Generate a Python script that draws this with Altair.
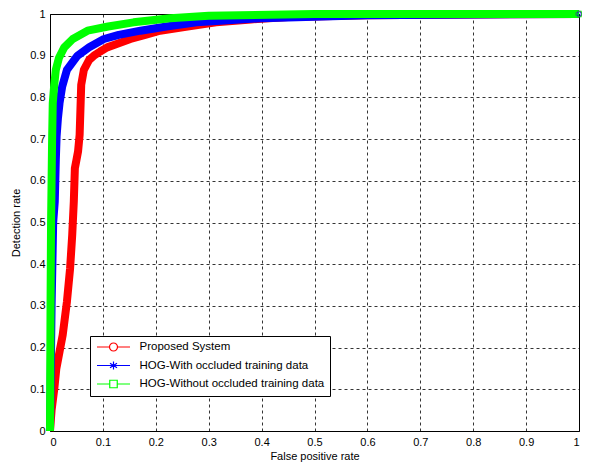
import altair as alt
import pandas as pd

series = ["Proposed System", "HOG-With occluded training data", "HOG-Without occluded training data"]
colors = ["#ff0000", "#0000ff", "#00ff00"]
end_shapes = ["circle", "cross", "square"]

red_fpr = [0, 0.003, 0.008, 0.012, 0.018, 0.024, 0.032, 0.038, 0.042, 0.045, 0.047, 0.05, 0.053, 0.056,
           0.058, 0.059, 0.064, 0.074, 0.083, 0.095, 0.108, 0.13, 0.152, 0.18, 0.208, 0.26, 0.314, 0.38,
           0.45, 0.6, 0.8, 1.0]
red_tpr = [0, 0.05, 0.1, 0.15, 0.19, 0.23, 0.31, 0.39, 0.47, 0.55, 0.63, 0.65, 0.67, 0.71,
           0.79, 0.83, 0.866, 0.89, 0.9, 0.91, 0.92, 0.93, 0.94, 0.95, 0.96, 0.97, 0.98, 0.987,
           0.993, 0.997, 0.999, 1.0]

blue_fpr = [0, 0.003, 0.006, 0.009, 0.01, 0.011, 0.0125, 0.015, 0.018, 0.023, 0.032, 0.046, 0.052, 0.074,
            0.102, 0.13, 0.171, 0.22, 0.277, 0.4, 0.6, 0.8, 1.0]
blue_tpr = [0, 0.3, 0.5, 0.55, 0.6, 0.65, 0.707, 0.75, 0.786, 0.826, 0.866, 0.89, 0.9, 0.92,
            0.94, 0.95, 0.96, 0.97, 0.98, 0.99, 0.997, 0.999, 1.0]

green_fpr = [0, 0.001, 0.002, 0.003, 0.004, 0.0052, 0.008, 0.011, 0.017, 0.027, 0.043, 0.071, 0.11,
             0.158, 0.227, 0.3, 0.5, 1.0]
green_tpr = [0, 0.3, 0.5, 0.6, 0.7, 0.786, 0.83, 0.866, 0.895, 0.92, 0.94, 0.96, 0.97,
             0.98, 0.99, 0.996, 1.0, 1.0]

ticks = [0, 0.1, 0.2, 0.3, 0.4, 0.5, 0.6, 0.7, 0.8, 0.9, 1]

rows = []
for name, xs_, ys_ in [(series[0], red_fpr, red_tpr), (series[1], blue_fpr, blue_tpr),
                       (series[2], green_fpr, green_tpr)]:
    for i, (x, y) in enumerate(zip(xs_, ys_)):
        rows.append({"series": name, "fpr": x, "tpr": y, "idx": i})
df = pd.DataFrame(rows)
ends = df.groupby("series").tail(1)

circle_path = "M-3.3,0H-0.8M0.8,0H3.3M-0.8,0A0.8,0.8 0 1,1 0.8,0A0.8,0.8 0 1,1 -0.8,0Z"
star_path = "M-3.3,0H3.3M0,-0.8V0.8M-0.7,-0.45L0.7,0.45M-0.7,0.45L0.7,-0.45"
square_path = "M-3.3,0H-0.8M0.8,0H3.3M-0.75,-0.75H0.75V0.75H-0.75Z"

font = "Liberation Sans"
xs = alt.X("fpr:Q", scale=alt.Scale(domain=[0, 1], nice=False),
           axis=alt.Axis(values=ticks, format="~g", title="False positive rate"))
ys = alt.Y("tpr:Q", scale=alt.Scale(domain=[0, 1], nice=False),
           axis=alt.Axis(values=ticks, format="~g", title="Detection rate"))

layers = []
for name, col in zip(series, colors):
    layers.append(
        alt.Chart(df).transform_filter(alt.datum.series == name)
        .mark_line(strokeWidth=8, strokeJoin="round", strokeCap="butt")
        .encode(x=xs, y=ys, order="idx:Q", color=alt.value(col))
    )
for name, col, shp in zip(series, colors, end_shapes):
    layers.append(
        alt.Chart(ends).transform_filter(alt.datum.series == name)
        .mark_point(filled=False, size=30, strokeWidth=1.2)
        .encode(x=xs, y=ys, color=alt.value(col), shape=alt.value(shp))
    )

leg = alt.Legend(
    title=None, orient="none", legendX=40, legendY=322,
    strokeColor="black", fillColor="white", padding=5,
    labelFont=font, labelFontSize=11.5, labelColor="black", labelLimit=0,
    symbolSize=100, symbolStrokeWidth=1.2, symbolOpacity=1,
    symbolOffset=12.5, labelOffset=20, rowPadding=4.5)

legend_layer = alt.Chart(ends).mark_point(opacity=0, filled=False, size=100).encode(
    x=xs, y=ys,
    color=alt.Color("series:N", scale=alt.Scale(domain=series, range=colors), legend=leg),
    shape=alt.Shape("series:N", scale=alt.Scale(domain=series,
                    range=[circle_path, star_path, square_path]), legend=leg),
)

chart = alt.layer(*layers, legend_layer).properties(
    width=529, height=417,
    autosize=alt.AutoSizeParams(type="none"),
    padding={"left": 42, "top": 6, "right": 3, "bottom": 35},
).configure_view(stroke="black", strokeWidth=1).configure_axis(
    domain=False, ticks=False, grid=True, gridColor="black", gridDash=[3, 3],
    gridWidth=0.8, gridOpacity=1,
    labelFont=font, labelFontSize=11, labelColor="black", labelPadding=5,
    titleFont=font, titleFontSize=11, titleFontWeight="normal", titleColor="black",
).configure_axisX(titlePadding=3).configure_axisY(titlePadding=8)

chart.save("out.html", embed_options={"renderer": "svg", "actions": False})
